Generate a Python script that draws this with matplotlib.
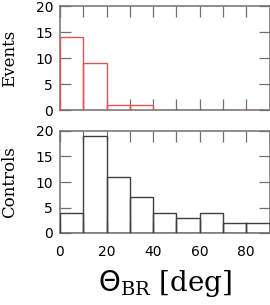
import numpy as np
import matplotlib
matplotlib.use('Agg')
import matplotlib.pyplot as plt
from matplotlib.ticker import MultipleLocator

# histogram bins (deg) and counts
bin_edges = [0, 10, 20, 30, 40, 50, 60, 70, 80, 90]
events = [14, 9, 1, 1, 0, 0, 0, 0, 0]
controls = [4, 19, 11, 7, 4, 3, 4, 2, 2]

plt.rcParams['mathtext.fontset'] = 'dejavuserif'
spine_col = '#707070'

fig = plt.figure(figsize=(2.7, 3.05), dpi=100)
ax1 = fig.add_axes([60 / 270, 1 - 110 / 305, 209.5 / 270, 104 / 305])
ax2 = fig.add_axes([60 / 270, 1 - 233 / 305, 209.5 / 270, 102 / 305])

left = np.array(bin_edges[:-1])
width = np.diff(bin_edges)

ax1.bar(left, events, width=width, align='edge', fill=False,
        edgecolor='#e05555', linewidth=1.0, zorder=3)
ax2.bar(left, controls, width=width, align='edge', fill=False,
        edgecolor='#404040', linewidth=1.0, zorder=3)

for ax in (ax1, ax2):
    ax.set_xlim(0, 90)
    ax.set_ylim(0, 20)
    ax.xaxis.set_major_locator(MultipleLocator(20))
    ax.xaxis.set_minor_locator(MultipleLocator(10))
    ax.yaxis.set_major_locator(MultipleLocator(5))
    ax.tick_params(which='both', direction='in', length=8, width=0.9,
                   color=spine_col, top=True, right=True, labelsize=10)
    ax.tick_params(axis='y', pad=5)
    ax.tick_params(axis='x', pad=9)
    for s in ax.spines.values():
        s.set_color(spine_col)
        s.set_linewidth(1.1)
    ax.yaxis.set_label_coords(-0.2, 0.5)

ax1.tick_params(labelbottom=False)
ax1.set_ylabel('Events', family='DejaVu Serif', fontsize=12)
ax2.set_ylabel('Controls', family='DejaVu Serif', fontsize=12)
ax2.set_xlabel(r'$\mathsf{\Theta}_{\mathrm{BR}}$ [deg]', family='DejaVu Serif',
               fontsize=20, labelpad=6)

fig.savefig('out.png', dpi=100)
